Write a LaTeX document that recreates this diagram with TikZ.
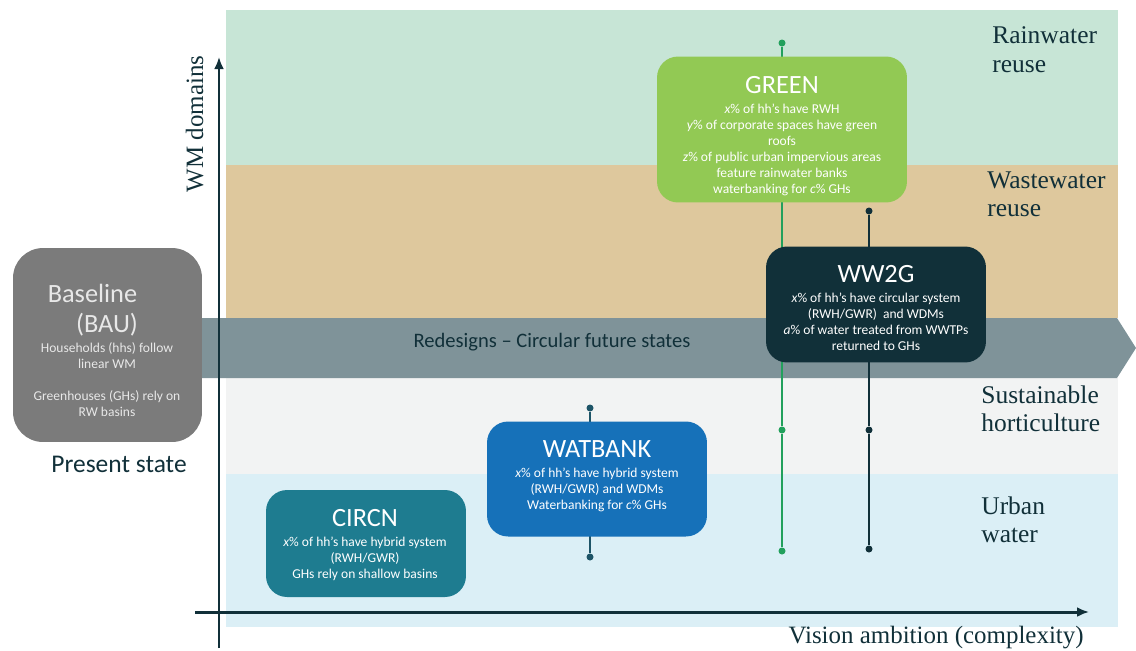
\documentclass[tikz,border=0pt]{standalone}
\usepackage{fontspec}
\setmainfont{Carlito}
\newfontfamily\domainfont{Liberation Serif}
\usetikzlibrary{positioning,arrows.meta}

\definecolor{rainbg}{HTML}{C7E5D6}
\definecolor{wastebg}{HTML}{DEC89D}
\definecolor{hortibg}{HTML}{F2F3F3}
\definecolor{urbanbg}{HTML}{DBEFF6}
\definecolor{bandgray}{HTML}{7F9399}
\definecolor{darkteal}{HTML}{113039}
\definecolor{greenbox}{HTML}{92C954}
\definecolor{bluebox}{HTML}{1671B9}
\definecolor{tealbox}{HTML}{1E7C90}
\definecolor{basegray}{HTML}{7B7B7B}
\definecolor{basetext}{HTML}{E8E8E8}
\definecolor{stemgreen}{HTML}{22A05C}
\definecolor{stemblue}{HTML}{1D5467}

\setlength{\lineskiplimit}{-100pt}
\newcommand{\statetitle}[1]{{\fontsize{15}{15}\selectfont #1}}

\tikzset{
  statebox/.style={rounded corners=0.42cm, inner sep=0pt},
  statetext/.style={text=white, align=center, inner sep=0pt, anchor=north,
    font=\fontsize{7.7}{9.1}\selectfont},
  domainlabel/.style={anchor=north west, align=left, inner sep=0pt, text=darkteal,
    font=\domainfont\fontsize{14.5}{16.4}\selectfont},
  axislabel/.style={inner sep=0pt, text=darkteal,
    font=\domainfont\fontsize{14.2}{16}\selectfont},
  axis/.style={darkteal, line width=1.7pt, -{Latex[length=0.24cm,width=0.2cm]}},
  dot/.style={circle, fill=#1, inner sep=0pt, minimum size=0.14cm},
  stem/.style={line width=0.9pt, #1},
}

\begin{document}
\begin{tikzpicture}[x=0.02cm, y=-0.02cm]
\useasboundingbox (0,0) rectangle (1136,650);

% domain bands
\fill[rainbg]  (226,10)  rectangle (1118,165);
\fill[wastebg] (226,165) rectangle (1118,318);
\fill[hortibg] (226,378) rectangle (1118,474);
\fill[urbanbg] (226,474) rectangle (1118,627);
\fill[bandgray] (150,318) -- (1117,318) -- (1136,348) -- (1117,378) -- (150,378) -- cycle;
\node[anchor=base, text=darkteal, font=\fontsize{11.7}{14}\selectfont] (redesign) at (552,347)
  {Redesigns -- Circular future states};

% stems
\node[dot=stemgreen] (g1) at (782,43)  {};
\node[dot=stemgreen] (g2) at (782,430) {};
\node[dot=stemgreen] (g3) at (782,551) {};
\node[dot=darkteal]  (k1) at (869,211) {};
\node[dot=darkteal]  (k2) at (869,430) {};
\node[dot=darkteal]  (k3) at (869,549) {};
\node[dot=stemblue]  (w1) at (590,408) {};
\node[dot=stemblue]  (w2) at (590,557) {};
\draw[stem=stemgreen] (g1) -- (g2) -- (g3);
\draw[stem=darkteal]  (k1) -- (k2) -- (k3);
\draw[stem=stemblue]  (w1) -- (w2);

% states
\node[statebox, rounded corners=0.6cm, fill=basegray, minimum width=3.78cm, minimum height=3.88cm] (base) at (107.5,345) {};
\node[statetext, text=basetext] (basetxt) at (107,284)
  {\statetitle{Baseline\hspace*{1.1em}}\\[7.9pt]
   \statetitle{(BAU)\hspace*{0.35em}}\\[2.2pt]
   Households (hhs) follow\\
   linear WM\\[9pt]
   Greenhouses (GHs) rely on\\
   RW basins};
\node[text=darkteal, anchor=base, font=\fontsize{14.5}{16}\selectfont] (present) at (119,472) {Present state};

\node[statebox, fill=greenbox, minimum width=5cm, minimum height=2.92cm] (green) at (782,129.5) {};
\node[statetext] (greentxt) at (782,76)
  {\statetitle{GREEN}\\[2.2pt]
   \textit{x}\% of hh's have RWH\\
   \textit{y}\% of corporate spaces have green\\
   roofs\\
   \textit{z}\% of public urban impervious areas\\
   feature rainwater banks\\
   waterbanking for \textit{c}\% GHs};

\node[statebox, fill=darkteal, minimum width=4.4cm, minimum height=2.32cm] (ww2g) at (876,304.5) {};
\node[statetext] (ww2gtxt) at (876,265)
  {\statetitle{WW2G}\\[2.2pt]
   \textit{x}\% of hh's have circular system\\
   (RWH/GWR)\ \ and WDMs\\
   \textit{a}\% of water treated from WWTPs\\
   returned to GHs};

\node[statebox, fill=bluebox, minimum width=4.4cm, minimum height=2.3cm] (watbank) at (597,479) {};
\node[statetext] (watbanktxt) at (597,440)
  {\statetitle{WATBANK}\\[2.2pt]
   \textit{x}\% of hh's have hybrid system\\
   (RWH/GWR) and WDMs\\
   Waterbanking for \textit{c}\% GHs};

\node[statebox, fill=tealbox, minimum width=4cm, minimum height=2.14cm] (circn) at (366,543.5) {};
\node[statetext] (circntxt) at (365,509)
  {\statetitle{CIRCN}\\[2.2pt]
   \textit{x}\% of hh's have hybrid system\\
   (RWH/GWR)\\
   GHs rely on shallow basins};

% axes
\coordinate (xo) at (195,612);
\coordinate (xe) at (1089,612);
\coordinate (yo) at (219,648);
\coordinate (ye) at (219,57);
\draw[axis] (xo) -- (xe);
\draw[axis] (yo) -- (ye);
\node[axislabel, anchor=base east] (xlab) at (1084,643) {Vision ambition (complexity)};
\node[axislabel, rotate=90, anchor=base] (ylab) at (203,124) {WM domains};

% domains
\node[domainlabel] (rain)  at (992,26)  {Rainwater\\reuse};
\node[domainlabel] (waste) at (987,171) {Wastewater\\reuse};
\node[domainlabel] (horti) at (981,385) {Sustainable\\horticulture};
\node[domainlabel] (urban) at (981,496) {Urban\\water};
\end{tikzpicture}
\end{document}
